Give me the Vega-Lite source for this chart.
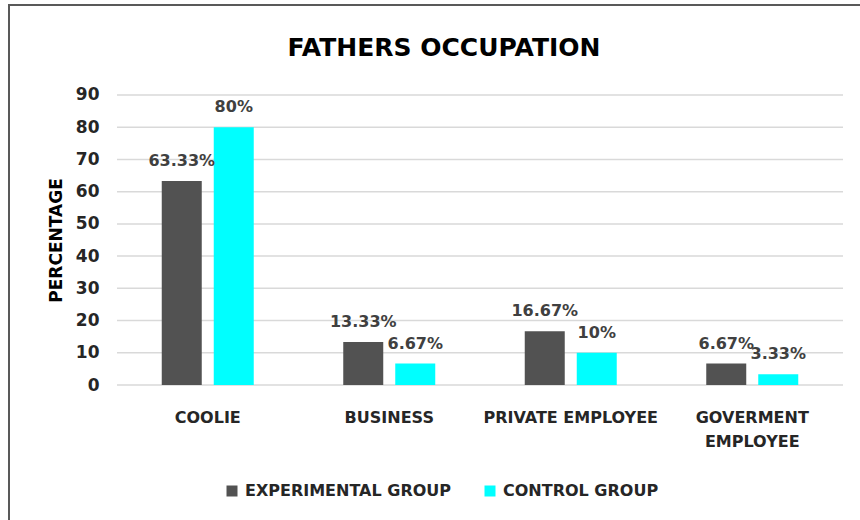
{
  "$schema": "https://vega.github.io/schema/vega-lite/v6.json",
  "width": 870,
  "height": 530,
  "autosize": {"type": "none"},
  "padding": {"left": 9, "top": 5, "right": 0, "bottom": 0},
  "background": "white",
  "config": {
    "font": "DejaVu Sans",
    "view": {"stroke": "#595959", "strokeWidth": 2},
    "axis": {"labelFont": "DejaVu Sans", "titleFont": "DejaVu Sans"}
  },
  "title": {
    "text": "FATHERS OCCUPATION",
    "font": "DejaVu Sans",
    "fontSize": 25,
    "fontWeight": "bold",
    "color": "#000000",
    "anchor": "middle",
    "frame": "group",
    "offset": -56
  },
  "datasets": {
    "bars": [
      {"cat": "COOLIE", "group": "EXPERIMENTAL GROUP", "value": 63.33, "label": "63.33%"},
      {"cat": "COOLIE", "group": "CONTROL GROUP", "value": 80, "label": "80%"},
      {"cat": "BUSINESS", "group": "EXPERIMENTAL GROUP", "value": 13.33, "label": "13.33%"},
      {"cat": "BUSINESS", "group": "CONTROL GROUP", "value": 6.67, "label": "6.67%"},
      {"cat": "PRIVATE EMPLOYEE", "group": "EXPERIMENTAL GROUP", "value": 16.67, "label": "16.67%"},
      {"cat": "PRIVATE EMPLOYEE", "group": "CONTROL GROUP", "value": 10, "label": "10%"},
      {"cat": "GOVERMENT EMPLOYEE", "group": "EXPERIMENTAL GROUP", "value": 6.67, "label": "6.67%"},
      {"cat": "GOVERMENT EMPLOYEE", "group": "CONTROL GROUP", "value": 3.33, "label": "3.33%"}
    ],
    "grid": [
      {"tick": 0}, {"tick": 10}, {"tick": 20}, {"tick": 30}, {"tick": 40},
      {"tick": 50}, {"tick": 60}, {"tick": 70}, {"tick": 80}, {"tick": 90}
    ]
  },
  "layer": [
    {
      "data": {"name": "grid"},
      "mark": {"type": "rule", "color": "#d9d9d9", "strokeWidth": 1.5},
      "encoding": {
        "x": {"datum": "COOLIE", "type": "nominal", "bandPosition": 0},
        "x2": {"datum": "GOVERMENT EMPLOYEE", "bandPosition": 1},
        "y": {"field": "tick", "type": "quantitative"}
      }
    },
    {
      "data": {"name": "bars"},
      "mark": {"type": "bar"},
      "encoding": {
        "x": {"field": "cat", "type": "nominal"},
        "xOffset": {"field": "group", "type": "nominal", "scale": {"domain": ["EXPERIMENTAL GROUP", "CONTROL GROUP"], "paddingInner": 0.2308, "paddingOuter": 0.8606}},
        "y": {"field": "value", "type": "quantitative"},
        "y2": {"datum": 0},
        "color": {
          "field": "group",
          "type": "nominal",
          "scale": {"domain": ["EXPERIMENTAL GROUP", "CONTROL GROUP"], "range": ["#525252", "#00FFFF"]},
          "legend": {
            "title": null,
            "orient": "none",
            "direction": "horizontal",
            "legendX": 215,
            "legendY": 478,
            "padding": 0,
            "symbolType": "square",
            "symbolSize": 121,
            "symbolStrokeWidth": 0,
            "labelFont": "DejaVu Sans",
            "labelFontSize": 16,
            "labelFontWeight": "bold",
            "labelColor": "#262626",
            "labelOffset": 5,
            "columnPadding": 30,
            "labelLimit": 400
          }
        }
      }
    },
    {
      "data": {"name": "bars"},
      "mark": {"type": "text", "dy": -20, "baseline": "middle", "font": "DejaVu Sans", "fontSize": 16, "fontWeight": "bold", "color": "#404040"},
      "encoding": {
        "x": {"field": "cat", "type": "nominal"},
        "xOffset": {"field": "group", "type": "nominal"},
        "y": {"field": "value", "type": "quantitative"},
        "text": {"field": "label"}
      }
    }
  ],
  "encoding": {
    "x": {
      "type": "nominal",
      "scale": {
        "domain": ["COOLIE", "BUSINESS", "PRIVATE EMPLOYEE", "GOVERMENT EMPLOYEE"],
        "paddingInner": 0,
        "paddingOuter": 0.3967,
        "align": 0.75
      },
      "axis": {
        "title": null,
        "orient": "bottom",
        "offset": -150,
        "domain": false,
        "ticks": false,
        "tickSize": 0,
        "grid": false,
        "labelAngle": 0,
        "labelPadding": 24,
        "labelFontSize": 16,
        "labelFontWeight": "bold",
        "labelColor": "#262626",
        "labelLineHeight": 24,
        "labelLimit": 300,
        "labelExpr": "datum.label == 'GOVERMENT EMPLOYEE' ? ['GOVERMENT', 'EMPLOYEE'] : datum.label"
      }
    },
    "y": {
      "type": "quantitative",
      "scale": {"domain": [-46.55, 117.93], "nice": false, "zero": false},
      "axis": {
        "title": "PERCENTAGE",
        "offset": -108,
        "values": [0, 10, 20, 30, 40, 50, 60, 70, 80, 90],
        "domain": false,
        "ticks": false,
        "tickSize": 0,
        "grid": false,
        "labelPadding": 18,
        "labelFontSize": 17,
        "labelFontWeight": "bold",
        "labelColor": "#262626",
        "titleFontSize": 17,
        "titleFontWeight": "bold",
        "titleColor": "#000000",
        "titlePadding": 10,
        "titleY": 235
      }
    }
  }
}
